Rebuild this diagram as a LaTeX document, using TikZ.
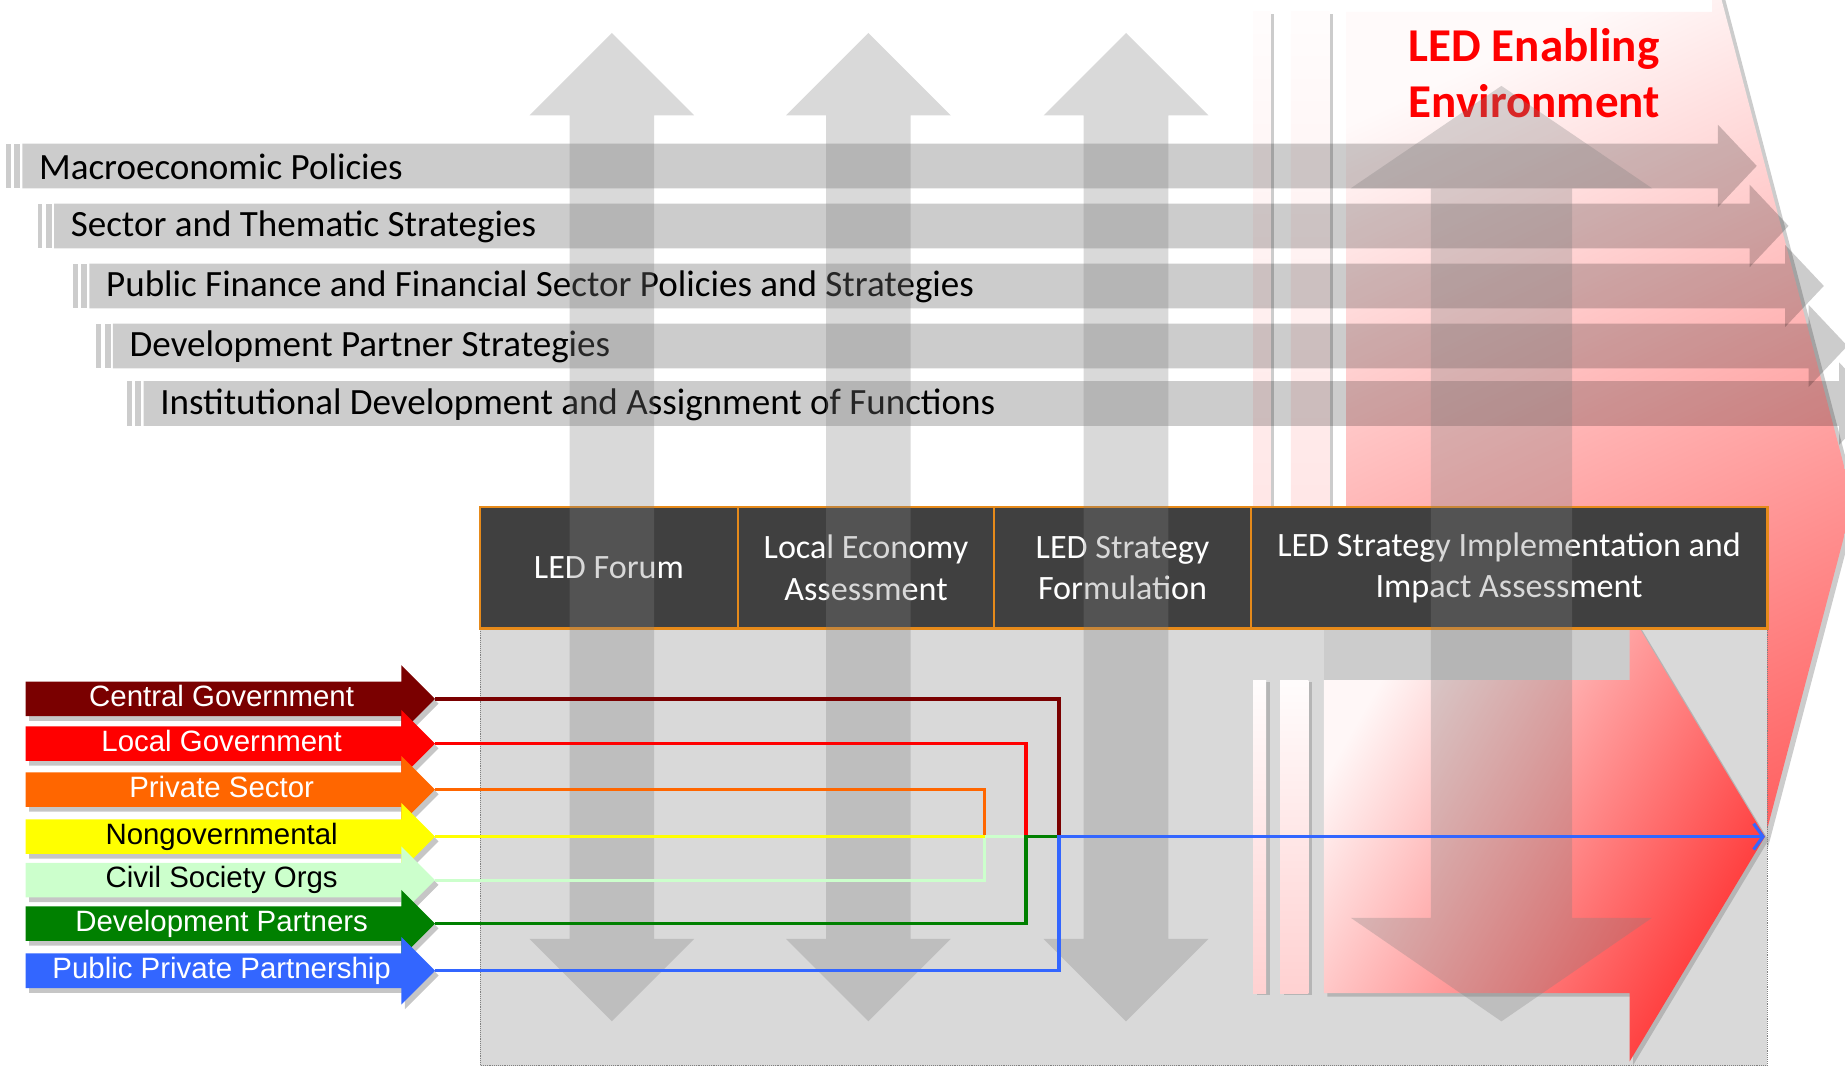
\documentclass[tikz,border=0pt]{standalone}
\usepackage{fontspec}
\setmainfont{Carlito}
\newfontfamily\stakefont{Liberation Sans}
\usetikzlibrary{positioning,shapes.arrows,shadows,arrows.meta}

\definecolor{headgrey}{HTML}{404040}
\definecolor{stageline}{HTML}{E68A1A}
\definecolor{panelgrey}{HTML}{D9D9D9}
\definecolor{cgred}{HTML}{7A0000}
\definecolor{lgred}{HTML}{FF0000}
\definecolor{psorange}{HTML}{FF6600}
\definecolor{ngyellow}{HTML}{FFFF00}
\definecolor{csgreen}{HTML}{CCFFCC}
\definecolor{dpgreen}{HTML}{008000}
\definecolor{ppblue}{HTML}{3366FF}

\tikzset{
	stage/.style = {draw=stageline, fill=headgrey, text=white, line width=2pt, outer sep=0pt, minimum height=103pt, align=center, font=\fontsize{29}{35}\selectfont},
	policybar/.style = {fill=black, opacity=0.2},
	policytext/.style = {anchor=west, inner sep=0pt, text=black, font=\fontsize{31.5}{36}\selectfont},
	vgarrow/.style = {fill=gray, opacity=0.3},
	stake/.style = {single arrow, single arrow head extend=14pt, anchor=tip, minimum height=348pt, inner xsep=0pt, inner ysep=2.5pt, text height=18.5pt, text depth=5.5pt, font=\stakefont\fontsize{25}{25}\selectfont, drop shadow={shadow xshift=3pt, shadow yshift=-4pt, opacity=0.45}},
	link/.style = {line width=2.7pt},
	enabling/.style = {top color=red!2, bottom color=red!68, shading angle=25, drop shadow={shadow xshift=4pt, shadow yshift=-3pt, opacity=0.4}},
	stripe/.style = {top color=red!1, bottom color=red!18, drop shadow={shadow xshift=3pt, shadow yshift=-2pt, opacity=0.4}},
	redarrow/.style = {left color=red!3, right color=red!80, shading angle=60, drop shadow={shadow xshift=3pt, shadow yshift=-3pt, opacity=0.4}},
	enabtext/.style = {anchor=west, align=left, inner sep=0pt, text=red, font=\bfseries\fontsize{40}{48}\selectfont}
}

\begin{document}
\begin{tikzpicture}[x=1pt, y=-1pt]
	\useasboundingbox (0,0) rectangle (1568,906);

	\path[stripe] (1065,10) rectangle (1080,842);
	\path[stripe] (1097,10) rectangle (1130,842);
	\path[enabling] (1144,10) -- (1455,10) -- (1455,-31) -- (1575,426) -- (1455,883) -- (1455,842) -- (1144,842) -- cycle;
	\node[enabtext] (ledEnv) at (1197,62) {LED Enabling\\Environment};

	\foreach \i/\xs/\yc/\txt in {1/5/141/Macroeconomic Policies,
			2/32/192/Sector and Thematic Strategies,
			3/62/243/Public Finance and Financial Sector Policies and Strategies,
			4/82/294/Development Partner Strategies,
			5/108/343/Institutional Development and Assignment of Functions}{
		\fill[policybar] (\xs,\yc-19) rectangle ++(4,38);
		\fill[policybar] (\xs+7,\yc-19) rectangle ++(5,38);
		\fill[policybar] (\xs+14,\yc-19) -- (\xs+1455,\yc-19) -- (\xs+1455,\yc-35) -- (\xs+1488,\yc) -- (\xs+1455,\yc+35) -- (\xs+1455,\yc+19) -- (\xs+14,\yc+19) -- cycle;
		\node[policytext] (pol\i) at (\xs+28,\yc+1) {\txt};
	}

	\fill[panelgrey] (408,533) rectangle (1502,906);
	\draw[gray, densely dotted, line width=0.6pt] (408,533) -- (408,905) -- (1502,905) -- (1502,533);

	\fill[black, opacity=0.06] (1125,533) rectangle (1385,578);
	\path[stripe] (1065,578) rectangle (1076,844);
	\path[stripe] (1088,578) rectangle (1112,844);
	\path[redarrow] (1125,578) -- (1385,578) -- (1385,520) -- (1500,711) coordinate (redTip) -- (1385,902) -- (1385,844) -- (1125,844) -- cycle;

	\node[stage, minimum width=219pt] (forum) at (517.5,482.5) {LED Forum};
	\node[stage, minimum width=218pt, right=0pt of forum] (assess) {Local Economy\\Assessment};
	\node[stage, minimum width=218pt, right=0pt of assess] (formul) {LED Strategy\\Formulation};
	\node[stage, minimum width=439pt, right=0pt of formul] (implem) {LED Strategy Implementation and\\Impact Assessment};

	\foreach \cx in {520,738,957}{
		\fill[vgarrow] (\cx,28) -- (\cx+70,98) -- (\cx+36,98) -- (\cx+36,798) -- (\cx+70,798) -- (\cx,868) -- (\cx-70,798) -- (\cx-36,798) -- (\cx-36,98) -- (\cx-70,98) -- cycle;
	}
	\fill[vgarrow] (1276,73) -- (1404,160) -- (1336,160) -- (1336,780) -- (1404,780) -- (1276,868) -- (1148,780) -- (1216,780) -- (1216,160) -- (1148,160) -- cycle;

	\foreach \nm/\col/\tcol/\yy/\txt in {cg/cgred/white/594/Central Government,
			lg/lgred/white/632/Local Government,
			ps/psorange/white/671/Private Sector,
			ng/ngyellow/black/711/Nongovernmental,
			cs/csgreen/black/748/Civil Society Orgs,
			dp/dpgreen/white/785/Development Partners,
			pp/ppblue/white/825/Public Private Partnership}{
		\node[stake, fill=\col, text=\tcol] (\nm) at (370,\yy) {\txt};
	}

	\coordinate (jYel) at (837,711);
	\coordinate (jGreen) at (872,711);
	\coordinate (jBlue) at (900,711);
	\draw[link, cgred] (cg.tip) -| (jBlue);
	\draw[link, lgred] (lg.tip) -| (jGreen);
	\draw[link, psorange] (ps.tip) -| (jYel);
	\draw[link, csgreen] (cs.tip) -| (jYel) -- (jGreen);
	\draw[link, ngyellow] (ng.tip) -- (jYel);
	\draw[link, dpgreen] (dp.tip) -| (jGreen) -- (jBlue);
	\draw[link, ppblue, -{Straight Barb[length=8pt, width=22pt]}] (pp.tip) -| (jBlue) -- (redTip);
\end{tikzpicture}
\end{document}
